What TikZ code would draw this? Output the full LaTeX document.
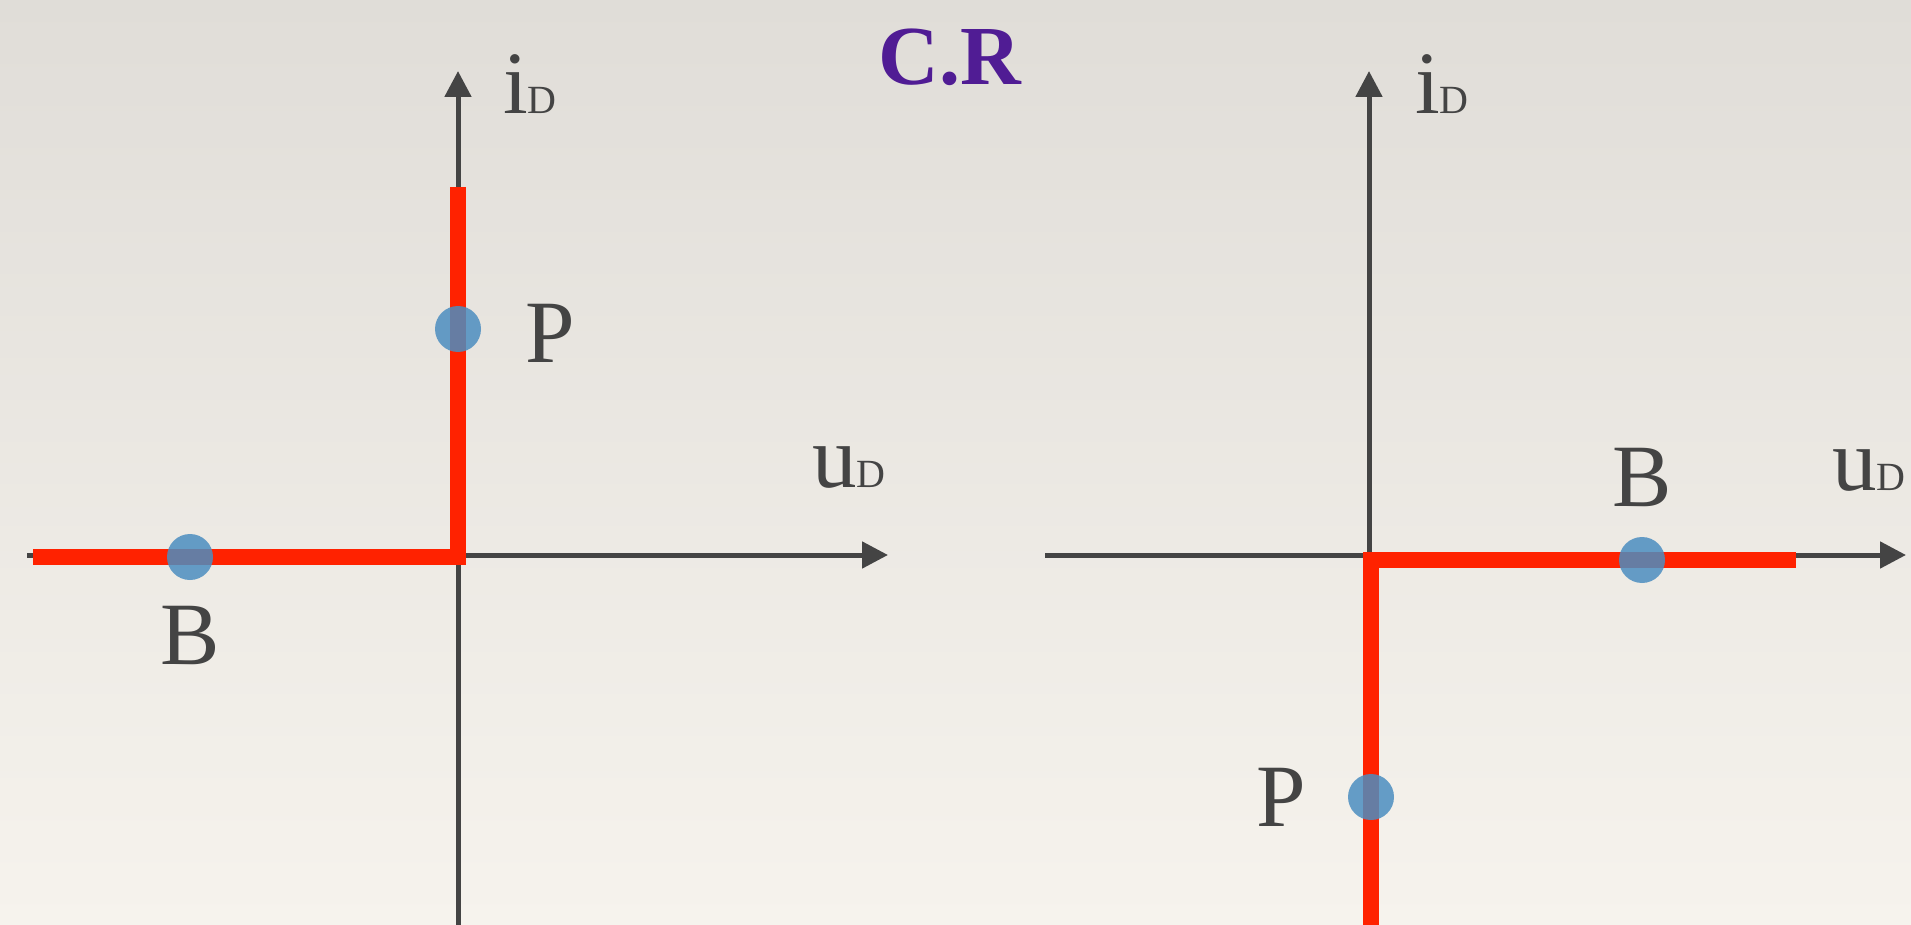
\documentclass[tikz,border=0pt]{standalone}
\usepackage{fontspec}
\setmainfont{Liberation Serif}
\usetikzlibrary{arrows.meta}
\definecolor{axisgray}{RGB}{68,68,68}
\definecolor{curvered}{RGB}{255,34,0}
\definecolor{dotblue}{RGB}{76,142,192}
\definecolor{titlepurple}{RGB}{80,28,148}
\definecolor{bgtop}{RGB}{224,221,216}
\definecolor{bgbottom}{RGB}{246,243,237}
\newcommand\subD{{\fontsize{40}{44}\selectfont D}}
\begin{document}
\begin{tikzpicture}[x=1pt,y=-1pt,
  axisline/.style={draw=axisgray,line width=5pt,-{Triangle[length=26pt,width=26pt]}},
  charline/.style={draw=curvered,line width=16pt,line join=miter},
  opdot/.style={circle,fill=dotblue,fill opacity=0.85,minimum size=46pt,inner sep=0pt},
  lbl/.style={text=axisgray,font=\fontsize{89}{100}\selectfont,inner sep=0pt},
  titlestyle/.style={text=titlepurple,font=\fontsize{84}{100}\selectfont\bfseries,inner sep=0pt}]
\shade[top color=bgtop,bottom color=bgbottom] (0,0) rectangle (1911,925);
\useasboundingbox (0,0) rectangle (1911,925);

% title
\node[titlestyle] (title) at (950,57) {C.R};

% ---- left diagram ----
\coordinate (Lxs) at (27,555);
\coordinate (Lxe) at (888,555);
\coordinate (Lys) at (458,925);
\coordinate (Lye) at (458,71);
\draw[axisline] (Lxs) -- (Lxe);
\draw[axisline] (Lys) -- (Lye);
\coordinate (Lr1) at (33,557);
\coordinate (Lr2) at (458,557);
\coordinate (Lr3) at (458,187);
\draw[charline] (Lr1) -- (Lr2) -- (Lr3);
\node[opdot] (LPdot) at (458,329) {};
\node[opdot] (LBdot) at (190,557) {};
\node[lbl] (LP) at (550,333) {P};
\node[lbl] (LB) at (190,635) {B};
\node[lbl,anchor=base west] (LiD) at (503,114) {i\subD};
\node[lbl,anchor=base west] (LuD) at (812,487) {u\subD};

% ---- right diagram ----
\coordinate (Rxs) at (1045,555);
\coordinate (Rxe) at (1906,555);
\coordinate (Rys) at (1369,925);
\coordinate (Rye) at (1369,71);
\draw[axisline] (Rxs) -- (Rxe);
\draw[axisline] (Rys) -- (Rye);
\coordinate (Rr1) at (1371,925);
\coordinate (Rr2) at (1371,560);
\coordinate (Rr3) at (1796,560);
\draw[charline] (Rr1) -- (Rr2) -- (Rr3);
\node[opdot] (RBdot) at (1642,560) {};
\node[opdot] (RPdot) at (1371,797) {};
\node[lbl] (RB) at (1642,477) {B};
\node[lbl] (RP) at (1281,797) {P};
\node[lbl,anchor=base west] (RiD) at (1415,114) {i\subD};
\node[lbl,anchor=base west] (RuD) at (1832,490) {u\subD};
\end{tikzpicture}
\end{document}
